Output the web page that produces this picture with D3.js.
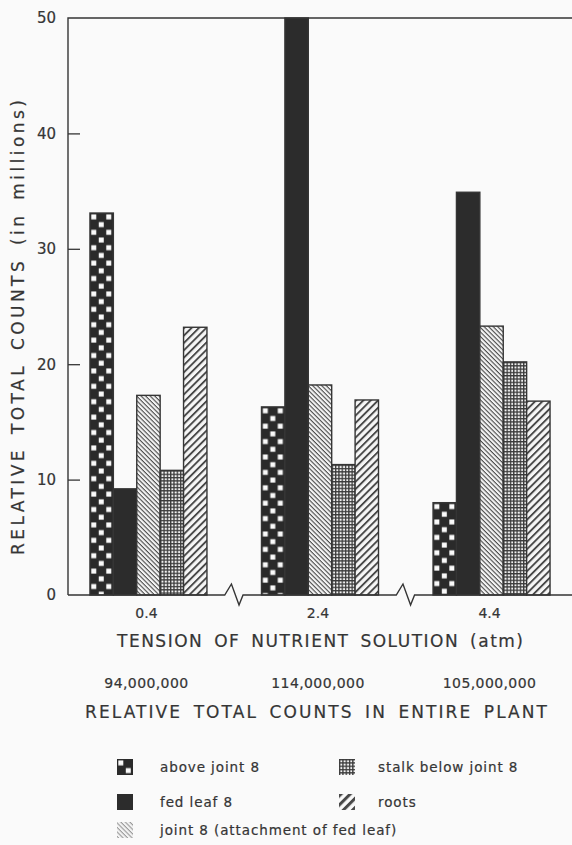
<!DOCTYPE html>
<html>
<head>
<meta charset="utf-8">
<script src="https://cdn.jsdelivr.net/npm/d3@7"></script>
<style>
  html, body { margin: 0; padding: 0; background: #fafafa; }
  svg { display: block; font-family: "DejaVu Sans", sans-serif; }
</style>
</head>
<body>
<svg id="chart"></svg>
<script>
// Data (relative total counts, millions)
const tensions = ["0.4", "2.4", "4.4"];
const plantTotals = ["94,000,000", "114,000,000", "105,000,000"];
const seriesKeys = ["above", "fedLeaf", "joint", "stalk", "roots"];
const seriesLabels = ["above joint 8", "fed leaf 8", "joint 8 (attachment of fed leaf)", "stalk below joint 8", "roots"];
const aboveJoint = [33.1, 16.3, 8.0];
const fedLeaf = [9.2, 50, 34.9];
const jointEight = [17.3, 18.2, 23.3];
const stalkBelow = [10.8, 11.3, 20.2];
const roots = [23.2, 16.9, 16.8];
const yTicks = [0, 10, 20, 30, 40, 50];

const values = { above: aboveJoint, fedLeaf: fedLeaf, joint: jointEight, stalk: stalkBelow, roots: roots };

const width = 572, height = 845;
const ink = "#353535";

const svg = d3.select("#chart")
  .attr("width", width)
  .attr("height", height);

svg.append("rect").attr("width", width).attr("height", height).attr("fill", "#fafafa");

const defs = svg.append("defs");

// scales
const x = d3.scaleBand()
  .domain(tensions)
  .range([68, 572])
  .paddingInner(0.318)
  .paddingOuter(0.128);

const xInner = d3.scaleBand()
  .domain(seriesKeys)
  .range([0, x.bandwidth()]);

const y = d3.scaleLinear()
  .domain([0, 50])
  .range([595, 18]);

// patterns - one per bar so the tiles line up with the bar edges
function makePattern(id, key, ox, oy, legend) {
  const p = defs.append("pattern")
    .attr("id", id)
    .attr("patternUnits", "userSpaceOnUse")
    .attr("x", ox).attr("y", oy);
  if (key === "above") {
    p.attr("width", 15).attr("height", 15.4);
    p.append("rect").attr("width", 15).attr("height", 15.4).attr("fill", "#2a2a2a");
    p.append("rect").attr("x", 1.3).attr("y", 1.4).attr("width", 5).attr("height", 5).attr("fill", "#fafafa");
    p.append("rect").attr("x", 8.8).attr("y", 9.1).attr("width", 5).attr("height", 5).attr("fill", "#fafafa");
  } else if (key === "fedLeaf") {
    p.attr("width", 4).attr("height", 4);
    p.append("rect").attr("width", 4).attr("height", 4).attr("fill", "#2c2c2c");
  } else if (key === "joint") {
    p.attr("width", 3.2).attr("height", 3.2).attr("patternTransform", `rotate(45 ${ox} ${oy})`);
    p.append("rect").attr("width", 3.2).attr("height", 3.2).attr("fill", "#f4f4f4");
    p.append("rect").attr("width", 3.2).attr("height", 1.1).attr("fill", legend ? "#9a9a9a" : "#4a4a4a");
  } else if (key === "stalk") {
    p.attr("width", 3.3).attr("height", 3.3);
    p.append("rect").attr("width", 3.3).attr("height", 3.3).attr("fill", "#3a3a3a");
    p.append("rect").attr("x", 1.3).attr("y", 1.3).attr("width", 2).attr("height", 2).attr("fill", "#f2f2f2");
  } else if (key === "roots") {
    const s = legend ? 6.5 : 5.2;
    p.attr("width", s).attr("height", s).attr("patternTransform", `rotate(-45 ${ox} ${oy})`);
    p.append("rect").attr("width", s).attr("height", s).attr("fill", legend ? "#fafafa" : "#f6f6f6");
    p.append("rect").attr("width", s).attr("height", legend ? 3 : 1.9).attr("fill", "#484848");
  }
}

// bars
const bars = [];
tensions.forEach((t, i) => {
  seriesKeys.forEach(k => {
    bars.push({ tension: t, key: k, value: values[k][i] });
  });
});

bars.forEach((d, i) => {
  d.x0 = x(d.tension) + xInner(d.key);
  d.pid = "pat" + i;
  makePattern(d.pid, d.key, d.x0, y(d.value), false);
});

svg.append("g")
  .selectAll("rect")
  .data(bars)
  .join("rect")
  .attr("x", d => d.x0)
  .attr("y", d => y(d.value))
  .attr("width", xInner.bandwidth())
  .attr("height", d => y(0) - y(d.value))
  .attr("fill", d => `url(#${d.pid})`)
  .attr("stroke", ink)
  .attr("stroke-width", 1.4);

// frame: left axis and top line
svg.append("path")
  .attr("d", `M572,${y(50)}H68V${y(0)}`)
  .attr("fill", "none")
  .attr("stroke", ink)
  .attr("stroke-width", 1.4);

// baseline with break marks between groups
const step = x.step();
const breaks = tensions.slice(0, -1).map(t => x(t) + x.bandwidth() + (step - x.bandwidth()) / 2);
let base = `M68,${y(0)}`;
breaks.forEach(c => {
  base += `L${c - 9.5},${y(0)}L${c - 2.8},${y(0) - 11}L${c + 4.8},${y(0) + 10}L${c + 8.8},${y(0)}`;
});
base += `L572,${y(0)}`;
svg.append("path")
  .attr("d", base)
  .attr("fill", "none")
  .attr("stroke", ink)
  .attr("stroke-width", 1.4)
  .attr("stroke-linejoin", "miter");

// y axis ticks (pointing into the plot)
const yAxis = d3.axisLeft(y)
  .tickValues(yTicks)
  .tickSizeInner(-12)
  .tickSizeOuter(0)
  .tickPadding(12)
  .tickFormat(d3.format("d"));

const gy = svg.append("g")
  .attr("transform", "translate(68,0)")
  .call(yAxis);
gy.select(".domain").remove();
gy.selectAll(".tick line")
  .attr("stroke", ink)
  .attr("stroke-width", 1.3)
  .attr("opacity", d => (d === 0 || d === 50) ? 0 : 1);
gy.selectAll(".tick text")
  .attr("fill", ink)
  .attr("stroke", ink)
  .attr("stroke-width", 0.2)
  .attr("font-size", 15)
  .attr("font-family", "DejaVu Sans, sans-serif");

// shared text style
function label(sel, size) {
  return sel.attr("fill", ink)
    .attr("stroke", ink)
    .attr("stroke-width", 0.2)
    .attr("font-size", size);
}

// y axis title
label(svg.append("text"), 17)
  .attr("transform", "translate(24,555) rotate(-90)")
  .attr("word-spacing", 4)
  .attr("textLength", 455)
  .attr("lengthAdjust", "spacing")
  .text("RELATIVE TOTAL COUNTS (in millions)");

// x tick labels
label(svg.append("g")
  .selectAll("text")
  .data(tensions)
  .join("text"), 14)
  .attr("x", d => x(d) + x.bandwidth() / 2 - 2)
  .attr("y", 618)
  .attr("text-anchor", "middle")
  .text(d => d);

label(svg.append("text"), 17)
  .attr("x", 117)
  .attr("y", 647)
  .attr("word-spacing", 4)
  .attr("textLength", 406)
  .attr("lengthAdjust", "spacing")
  .text("TENSION OF NUTRIENT SOLUTION (atm)");

// plant totals
label(svg.append("g")
  .selectAll("text")
  .data(plantTotals)
  .join("text"), 14)
  .attr("x", (d, i) => x(tensions[i]) + x.bandwidth() / 2 - 2)
  .attr("y", 688)
  .attr("text-anchor", "middle")
  .attr("letter-spacing", 0.4)
  .text(d => d);

label(svg.append("text"), 17)
  .attr("x", 85)
  .attr("y", 718)
  .attr("word-spacing", 4)
  .attr("textLength", 462)
  .attr("lengthAdjust", "spacing")
  .text("RELATIVE TOTAL COUNTS IN ENTIRE PLANT");

// legend
const legendPos = [
  { sx: 117, ty: 767 },
  { sx: 117, ty: 802 },
  { sx: 117, ty: 830 },
  { sx: 339, ty: 767 },
  { sx: 339, ty: 802 }
];
seriesKeys.forEach((k, i) => {
  const p = legendPos[i];
  const pid = "leg" + i;
  makePattern(pid, k, p.sx, p.ty - 8, true);
  svg.append("rect")
    .attr("x", p.sx)
    .attr("y", p.ty - 8)
    .attr("width", 16)
    .attr("height", 16)
    .attr("fill", `url(#${pid})`);
  label(svg.append("text"), 13.5)
    .attr("x", i < 3 ? 160 : 378)
    .attr("y", p.ty + 5)
    .attr("letter-spacing", 0.9)
    .text(seriesLabels[i]);
});
</script>
</body>
</html>
